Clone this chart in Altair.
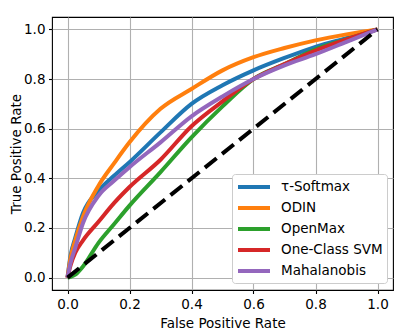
import altair as alt
import pandas as pd

fpr = [0, 0.01, 0.025, 0.05, 0.1, 0.15, 0.2, 0.3, 0.4, 0.5, 0.6, 0.7, 0.8, 0.9, 1.0]
methods = ["τ-Softmax", "ODIN", "OpenMax", "One-Class SVM", "Mahalanobis"]
colors = ["#1f77b4", "#ff7f0e", "#2ca02c", "#d62728", "#9467bd"]

tpr_tau = [0, 0.09, 0.16, 0.26, 0.35, 0.41, 0.465, 0.585, 0.70, 0.775, 0.835, 0.885, 0.93, 0.965, 1.0]
tpr_odin = [0, 0.08, 0.15, 0.245, 0.37, 0.46, 0.545, 0.68, 0.76, 0.835, 0.888, 0.925, 0.956, 0.98, 1.0]
tpr_openmax = [0, 0.003, 0.012, 0.045, 0.14, 0.215, 0.29, 0.425, 0.565, 0.69, 0.80, 0.86, 0.92, 0.96, 1.0]
tpr_ocsvm = [0, 0.05, 0.10, 0.15, 0.225, 0.30, 0.365, 0.475, 0.61, 0.71, 0.80, 0.86, 0.915, 0.96, 1.0]
tpr_maha = [0, 0.06, 0.12, 0.22, 0.33, 0.39, 0.445, 0.545, 0.65, 0.73, 0.80, 0.855, 0.90, 0.95, 1.0]

chance_x = [0, 1]
chance_y = [0, 1]

ticks = [0.0, 0.2, 0.4, 0.6, 0.8, 1.0]

rows = []
for m, series in zip(methods, [tpr_tau, tpr_odin, tpr_openmax, tpr_ocsvm, tpr_maha]):
    for i, (x, y) in enumerate(zip(fpr, series)):
        rows.append({"method": m, "fpr": x, "tpr": y, "idx": i})
df = pd.DataFrame(rows)
diag = pd.DataFrame({"fpr": chance_x, "tpr": chance_y})

xscale = alt.Scale(domain=[-0.05, 1.05], nice=False, zero=False)
yscale = alt.Scale(domain=[-0.05, 1.05], nice=False, zero=False)

x_axis = alt.Axis(values=ticks, format=".1f", title="False Positive Rate", titlePadding=6)
y_axis = alt.Axis(values=ticks, format=".1f", title="True Positive Rate", titlePadding=0)

lines = alt.Chart(df).mark_line(strokeWidth=4, interpolate="monotone").encode(
    x=alt.X("fpr:Q", scale=xscale, axis=x_axis),
    y=alt.Y("tpr:Q", scale=yscale, axis=y_axis),
    color=alt.Color(
        "method:N",
        scale=alt.Scale(domain=methods, range=colors),
        sort=methods,
        legend=alt.Legend(
            title=None,
            orient="none",
            legendX=180,
            legendY=157,
            symbolType="M-1,0H3.571",
            symbolSize=196,
            symbolStrokeWidth=4,
            labelOffset=27,
            rowPadding=4,
            padding=4,
            strokeColor="#cccccc",
            fillColor="white",
            cornerRadius=3,
            labelFontSize=13.5,
            labelFont="DejaVu Sans",
            labelColor="black",
            labelLimit=300,
        ),
    ),
    order="idx:Q",
)

diag_line = alt.Chart(diag).mark_line(color="black", strokeWidth=4, strokeDash=[15, 7]).encode(
    x=alt.X("fpr:Q", scale=xscale),
    y=alt.Y("tpr:Q", scale=yscale),
)

chart = alt.layer(lines, diag_line).properties(
    width=341,
    height=273,
    autosize=alt.AutoSizeParams(type="none"),
    padding={"left": 44, "top": 9, "right": 12, "bottom": 41},
).configure_view(
    stroke="black", strokeWidth=1.1
).configure_axis(
    domain=False,
    grid=True,
    gridColor="#b0b0b0",
    gridWidth=1.1,
    tickColor="black",
    tickSize=3.5,
    tickWidth=1.1,
    labelFont="DejaVu Sans",
    labelFontSize=13.5,
    labelColor="black",
    labelPadding=3.5,
    titleFont="DejaVu Sans",
    titleFontSize=13.5,
    titleFontWeight="normal",
    titleColor="black",
)

chart.save("out.html", embed_options={"renderer": "svg", "actions": False})
